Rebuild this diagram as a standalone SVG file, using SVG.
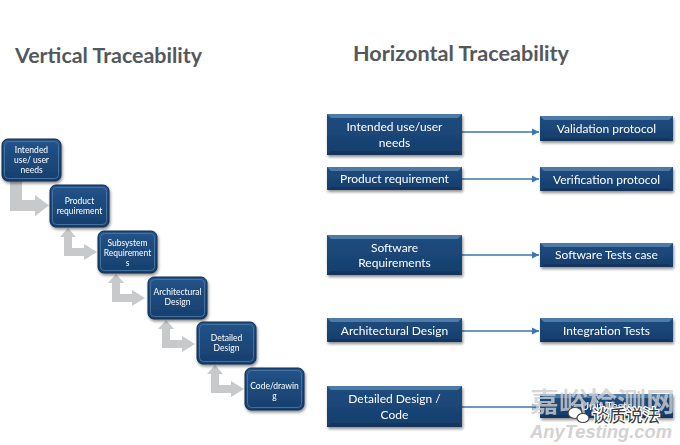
<svg xmlns="http://www.w3.org/2000/svg" width="680" height="445" viewBox="0 0 680 445">
<style>
.title{font-family:Lato,"Liberation Sans",sans-serif;font-weight:bold;font-size:20px;fill:#54585c}
.lt{font-family:Lato,"Liberation Sans",sans-serif;font-size:8.5px;fill:#ffffff;text-anchor:middle}
.rt{font-family:Lato,"Liberation Sans",sans-serif;font-size:12px;fill:#ffffff;text-anchor:middle}
.rbox{fill:url(#bg)}
.lbox{fill:url(#bg2);stroke:#0e2b4d;stroke-width:1}
.hl{fill:none;stroke:#4d7bab;stroke-width:1;opacity:0.8}
.gar{fill:#c8c9cb}
.conn{stroke:#3b76ad;stroke-width:1.3;fill:none}
.wm{font-family:"Noto Sans CJK SC",sans-serif;font-size:27px;fill:#cfcfcf;opacity:0.8;font-weight:bold}
</style>
<defs>
<linearGradient id="bg" x1="0" y1="0" x2="0" y2="1">
<stop offset="0" stop-color="#1e4d80"/>
<stop offset="1" stop-color="#163e6c"/>
</linearGradient>
<linearGradient id="bg2" x1="0" y1="0" x2="0" y2="1">
<stop offset="0" stop-color="#22548a"/>
<stop offset="1" stop-color="#173f6d"/>
</linearGradient>
<filter id="sh" x="-10%" y="-10%" width="130%" height="150%">
<feGaussianBlur in="SourceAlpha" stdDeviation="1.5"/>
<feOffset dx="1" dy="2" result="b"/>
<feComponentTransfer><feFuncA type="linear" slope="0.45"/></feComponentTransfer>
<feMerge><feMergeNode/><feMergeNode in="SourceGraphic"/></feMerge>
</filter>
<path id="garrow" d="M18,43 L26,52 L22,52 L22,63 L34,63 L34,59 L47,67 L34,75 L34,71 L14,71 L14,52 L10,52 Z"/>
<marker id="ah" markerWidth="8" markerHeight="8" refX="7" refY="4" orient="auto" markerUnits="userSpaceOnUse">
<path d="M0,0.5 L7,4 L0,7.5 Z" fill="#3b76ad"/>
</marker>
</defs>
<rect width="680" height="445" fill="#ffffff"/>

<text class="title" x="15" y="63" textLength="187" lengthAdjust="spacingAndGlyphs">Vertical Traceability</text>
<text class="title" x="353" y="61" textLength="216" lengthAdjust="spacingAndGlyphs">Horizontal Traceability</text>

<g id="vertical-arrows">
<path class="gar" d="M10,181 L22,181 L22,200 L35,200 L35,195 L49,205.5 L35,216 L35,211 L10,211 Z"/>
<use href="#garrow" class="gar" transform="translate(50,185)"/>
<use href="#garrow" class="gar" transform="translate(98,231)"/>
<use href="#garrow" class="gar" transform="translate(148,277)"/>
<use href="#garrow" class="gar" transform="translate(197,322)"/>
</g>

<g id="v1" filter="url(#sh)">
<rect class="lbox" x="2" y="139" width="59" height="42" rx="6"/>
<rect class="hl" x="4.5" y="141.5" width="54" height="37" rx="4"/>
<text class="lt" x="31.5" y="153">Intended</text>
<text class="lt" x="31.5" y="163">use/ user</text>
<text class="lt" x="31.5" y="173">needs</text>
</g>
<g id="v2" filter="url(#sh)">
<rect class="lbox" x="50" y="185" width="59" height="42" rx="6"/>
<rect class="hl" x="52.5" y="187.5" width="54" height="37" rx="4"/>
<text class="lt" x="79.5" y="204">Product</text>
<text class="lt" x="79.5" y="214">requirement</text>
</g>
<g id="v3" filter="url(#sh)">
<rect class="lbox" x="98" y="231" width="59" height="42" rx="6"/>
<rect class="hl" x="100.5" y="233.5" width="54" height="37" rx="4"/>
<text class="lt" x="127.5" y="246">Subsystem</text>
<text class="lt" x="127.5" y="256">Requirement</text>
<text class="lt" x="127.5" y="266">s</text>
</g>
<g id="v4" filter="url(#sh)">
<rect class="lbox" x="148" y="277" width="59" height="42" rx="6"/>
<rect class="hl" x="150.5" y="279.5" width="54" height="37" rx="4"/>
<text class="lt" x="177.5" y="295">Architectural</text>
<text class="lt" x="177.5" y="305">Design</text>
</g>
<g id="v5" filter="url(#sh)">
<rect class="lbox" x="197" y="322" width="59" height="42" rx="6"/>
<rect class="hl" x="199.5" y="324.5" width="54" height="37" rx="4"/>
<text class="lt" x="226.5" y="341">Detailed</text>
<text class="lt" x="226.5" y="351">Design</text>
</g>
<g id="v6" filter="url(#sh)">
<rect class="lbox" x="245" y="368" width="59" height="42" rx="6"/>
<rect class="hl" x="247.5" y="370.5" width="54" height="37" rx="4"/>
<text class="lt" x="274.5" y="389">Code/drawin</text>
<text class="lt" x="274.5" y="399">g</text>
</g>

<g id="connectors">
<line class="conn" x1="462" y1="132" x2="539" y2="132" marker-end="url(#ah)"/>
<line class="conn" x1="462" y1="179" x2="539" y2="179" marker-end="url(#ah)"/>
<line class="conn" x1="462" y1="255" x2="539" y2="255" marker-end="url(#ah)"/>
<line class="conn" x1="462" y1="331" x2="539" y2="331" marker-end="url(#ah)"/>
<line class="conn" x1="462" y1="407" x2="539" y2="407" marker-end="url(#ah)"/>
</g>

<g id="h1" filter="url(#sh)">
<rect class="rbox" x="327" y="114" width="135" height="41"/>
<polygon points="327,114 462,114 458,118 331,118" fill="#4f7aa6"/>
<polygon points="327,155 462,155 458,151 331,151" fill="#13355d"/>
<text class="rt" x="394.5" y="131">Intended use/user</text>
<text class="rt" x="394.5" y="147">needs</text>
</g>
<g id="h2" filter="url(#sh)">
<rect class="rbox" x="327" y="167" width="135" height="23"/>
<polygon points="327,167 462,167 458,171 331,171" fill="#4f7aa6"/>
<polygon points="327,190 462,190 458,187 331,187" fill="#13355d"/>
<text class="rt" x="394.5" y="183">Product requirement</text>
</g>
<g id="h3" filter="url(#sh)">
<rect class="rbox" x="327" y="235" width="135" height="40"/>
<polygon points="327,235 462,235 458,239 331,239" fill="#4f7aa6"/>
<polygon points="327,275 462,275 458,271 331,271" fill="#13355d"/>
<text class="rt" x="394.5" y="252">Software</text>
<text class="rt" x="394.5" y="267">Requirements</text>
</g>
<g id="h4" filter="url(#sh)">
<rect class="rbox" x="327" y="318" width="135" height="24"/>
<polygon points="327,318 462,318 458,322 331,322" fill="#4f7aa6"/>
<polygon points="327,342 462,342 458,339 331,339" fill="#13355d"/>
<text class="rt" x="394.5" y="335">Architectural Design</text>
</g>
<g id="h5" filter="url(#sh)">
<rect class="rbox" x="327" y="386" width="135" height="41"/>
<polygon points="327,386 462,386 458,390 331,390" fill="#4f7aa6"/>
<polygon points="327,427 462,427 458,423 331,423" fill="#13355d"/>
<text class="rt" x="394.5" y="403">Detailed Design /</text>
<text class="rt" x="394.5" y="419">Code</text>
</g>

<g id="t1" filter="url(#sh)">
<rect class="rbox" x="540" y="116" width="133" height="25"/>
<polygon points="540,116 673,116 669,120 544,120" fill="#4f7aa6"/>
<polygon points="540,141 673,141 669,138 544,138" fill="#13355d"/>
<text class="rt" x="606.5" y="133">Validation protocol</text>
</g>
<g id="t2" filter="url(#sh)">
<rect class="rbox" x="540" y="167" width="133" height="24"/>
<polygon points="540,167 673,167 669,171 544,171" fill="#4f7aa6"/>
<polygon points="540,191 673,191 669,188 544,188" fill="#13355d"/>
<text class="rt" x="606.5" y="184">Verification protocol</text>
</g>
<g id="t3" filter="url(#sh)">
<rect class="rbox" x="540" y="243" width="133" height="24"/>
<polygon points="540,243 673,243 669,247 544,247" fill="#4f7aa6"/>
<polygon points="540,267 673,267 669,264 544,264" fill="#13355d"/>
<text class="rt" x="606.5" y="259">Software Tests case</text>
</g>
<g id="t4" filter="url(#sh)">
<rect class="rbox" x="540" y="318" width="133" height="24"/>
<polygon points="540,318 673,318 669,322 544,322" fill="#4f7aa6"/>
<polygon points="540,342 673,342 669,339 544,339" fill="#13355d"/>
<text class="rt" x="606.5" y="335">Integration Tests</text>
</g>
<g id="t5" filter="url(#sh)">
<rect class="rbox" x="540" y="394" width="133" height="24"/>
<polygon points="540,394 673,394 669,398 544,398" fill="#4f7aa6"/>
<polygon points="540,418 673,418 669,415 544,415" fill="#13355d"/>
<text class="rt" x="606.5" y="410">Unit Tests</text>
</g>

<g id="watermark">
<text class="wm" x="530" y="412" textLength="145" lengthAdjust="spacingAndGlyphs">嘉峪检测网</text>
<text x="530" y="438" font-family="'Liberation Sans',sans-serif" font-style="italic" font-weight="bold" font-size="19" fill="#d2d2d2" textLength="142" lengthAdjust="spacingAndGlyphs">AnyTesting.com</text>
<ellipse cx="575" cy="413" rx="7" ry="5.5" fill="#ffffff" stroke="#444" stroke-width="1.2"/>
<ellipse cx="583" cy="418" rx="6" ry="4.5" fill="#ffffff" stroke="#444" stroke-width="1.2"/>
<text x="592" y="422" font-family="'Noto Sans CJK SC',sans-serif" font-size="17" fill="#3a3a3a" stroke="#ffffff" stroke-width="2.5" paint-order="stroke">谈质说法</text>
</g>
</svg>
